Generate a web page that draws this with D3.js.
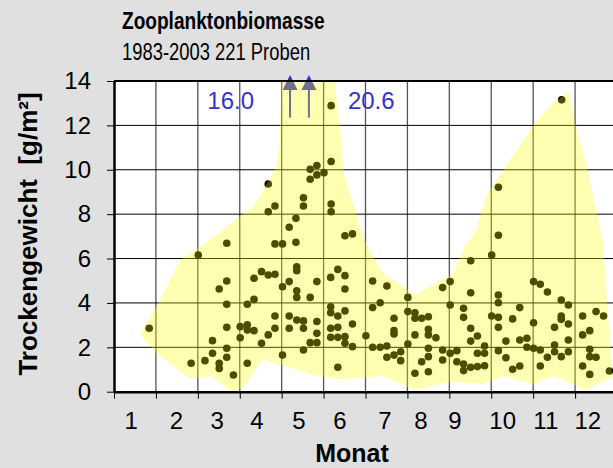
<!DOCTYPE html>
<html>
<head>
<meta charset="utf-8">
<title>Zooplanktonbiomasse</title>
<script src="https://cdn.jsdelivr.net/npm/d3@7"></script>
<style>
  body { margin: 0; background: #e0e0e0; }
  text { font-family: "Liberation Sans", Arial, sans-serif; }
</style>
</head>
<body>
<script>

// Proben: Monat (dezimal) und Trockengewicht [g/m2]
var monat = [
  0.84, 1.84, 2.01, 2.17, 2.35, 2.35, 2.51, 2.51, 2.51, 2.69, 2.69, 2.69, 2.69, 2.69, 2.69, 2.85,
  3.01, 3.01, 3.18, 3.18, 3.18, 3.18, 3.34, 3.34, 3.34, 3.52, 3.52, 3.68, 3.68, 3.68, 3.68,
  3.84, 3.84, 3.84, 3.84, 3.84, 4.02, 4.02, 4.02, 4.18, 4.18, 4.18, 4.18, 4.34, 4.34,
  4.36, 4.36, 4.36, 4.36, 4.36, 4.52, 4.52, 4.52, 4.52, 4.52, 4.68, 4.68, 4.68, 4.68,
  4.84, 4.84, 4.84, 4.84, 4.84, 4.84, 5.01, 5.17, 5.17, 5.17, 5.17, 5.17, 5.18, 5.18, 5.18, 5.18,
  5.34, 5.34, 5.34, 5.34, 5.34, 5.51, 5.51, 5.51, 5.51, 5.51, 5.51, 5.69, 5.69, 5.69,
  6.01, 6.17, 6.17, 6.17, 6.35, 6.35, 6.51, 6.51, 6.51, 6.68, 6.68, 6.68, 6.68, 6.84, 6.84,
  7.01, 7.01, 7.01, 7.18, 7.18, 7.18, 7.18, 7.34, 7.34, 7.50, 7.50, 7.50, 7.50, 7.50, 7.50,
  7.68, 7.84, 7.84, 7.84, 8.02, 8.02, 8.02, 8.18, 8.18, 8.34, 8.34, 8.34, 8.34,
  8.51, 8.51, 8.51, 8.51, 8.51, 8.67, 8.67, 8.67, 8.84, 8.84, 8.84, 9.01, 9.01,
  9.17, 9.17, 9.17, 9.17, 9.17, 9.17, 9.17, 9.35, 9.35, 9.51, 9.51, 9.68, 9.68, 9.68, 9.85, 9.85,
  10.01, 10.01, 10.01, 10.17, 10.17, 10.17, 10.34, 10.34, 10.51, 10.51, 10.51,
  10.67, 10.67, 10.67, 10.67, 10.68, 10.84, 10.84, 10.84, 10.84,
  11.18, 11.18, 11.18, 11.35, 11.35, 11.35, 11.35, 11.50, 11.50, 11.68, 11.82
];
var gewicht = [
  2.86, 1.28, 6.16, 1.40, 1.73, 2.30, 1.28, 1.05, 4.63, 1.55, 1.96, 2.90, 3.94, 4.99, 6.69, 0.75,
  2.93, 2.43, 3.01, 2.78, 1.28, 3.94, 2.75, 4.16, 5.11, 5.41, 2.18, 5.26, 2.56, 8.11, 9.36,
  5.29, 2.86, 3.41, 6.66, 8.37, 1.65, 4.73, 6.66, 4.96, 2.86, 3.41, 7.41, 6.73, 7.81,
  5.63, 5.45, 4.55, 4.25, 3.23, 3.19, 2.86, 1.88, 8.74, 8.37, 2.21, 4.25, 10.02, 9.57,
  4.96, 3.16, 2.63, 2.21, 10.19, 9.77, 9.87, 5.15, 3.83, 3.56, 2.86, 2.45, 12.89, 10.37, 8.46, 8.11,
  5.51, 3.41, 2.90, 2.45, 1.10, 5.23, 4.63, 3.64, 2.48, 2.18, 7.03, 7.11, 2.03, 3.05,
  2.52, 4.99, 3.79, 2.00, 4.01, 2.00, 4.76, 2.06, 1.55, 3.31, 2.75, 2.60, 1.65, 1.80, 1.40,
  4.25, 3.61, 2.15, 3.56, 3.31, 2.56, 0.83, 3.31, 1.35, 3.38, 2.81, 2.56, 1.96, 1.58, 0.90,
  2.43, 4.69, 1.88, 1.43, 4.96, 3.91, 1.73, 1.85, 1.35, 3.76, 3.35, 1.25, 0.95,
  5.90, 4.46, 2.86, 2.28, 1.10, 2.51, 1.73, 1.13, 2.06, 1.73, 1.17, 6.16, 3.41,
  9.21, 7.05, 4.36, 4.01, 3.35, 2.90, 1.85, 2.28, 1.53, 3.28, 1.01, 3.79, 2.33, 1.16, 2.41, 2.00,
  4.96, 3.11, 1.96, 4.84, 1.88, 1.16, 4.49, 1.55, 2.90, 2.10, 1.80,
  4.13, 3.41, 3.26, 1.58, 13.15, 3.91, 3.05, 2.33, 1.80,
  3.41, 2.56, 1.16, 2.75, 1.91, 1.58, 0.78, 3.61, 1.55, 3.41, 0.93
];

// gelbe Huellflaeche
var huelleMonat = [0.62, 1.10, 1.58, 2.06, 3.33, 3.88, 3.96, 4.00, 5.20, 5.39, 5.48, 5.87, 6.03,
  6.39, 7.18, 8.10, 8.35, 8.62, 8.89, 10.01, 10.50, 10.86, 11.00, 11.24, 11.66, 11.88, 12.10,
  11.28, 10.49, 10.01, 9.29, 8.82, 8.02, 7.18, 6.43, 5.39, 4.76, 4.12, 3.52, 3.17, 2.85,
  2.33, 1.81, 1.02];
var huelleWert = [2.56, 4.13, 5.94, 6.53, 8.34, 10.14, 11.49, 15.0, 15.0, 11.94, 9.84, 7.44, 6.60,
  5.41, 4.36, 5.34, 6.50, 7.21, 8.86, 12.02, 13.05, 13.50, 12.09, 10.44, 6.84, 0.84, 0.90,
  0.08, 0.71, 0.35, 0.71, 0.35, 0.45, 0.08, 0.71, 0.56, 0.75, 1.13, 1.46, 0.38, -0.10,
  0.71, 0.60, 1.73];

// Werte ausserhalb der Skala
var pfeilMonat = [4.20, 4.65];
var pfeilWert = [16.0, 20.6];

var monatLabels = ["1", "2", "3", "4", "5", "6", "7", "8", "9", "10", "11", "12"];
var monatLabelPos = [0.40, 1.48, 2.45, 3.40, 4.40, 5.38, 6.45, 7.31, 8.12, 9.26, 10.29, 11.29];
var yTicks = [0, 2, 4, 6, 8, 10, 12, 14];

var width = 613, height = 468;
var pL = 114, pT = 81, pR = 617, pB = 391.7;

var x = d3.scaleLinear().domain([0, 12]).range([pL, pR]);
var y = d3.scaleLinear().domain([0, 14]).range([pB, pT]);

var svg = d3.select("body").append("svg")
  .attr("width", width)
  .attr("height", height)
  .style("display", "block");

svg.append("rect").attr("width", width).attr("height", height).attr("fill", "#e0e0e0");

svg.append("defs").append("clipPath").attr("id", "plot")
  .append("rect")
  .attr("x", pL).attr("y", pT)
  .attr("width", pR - pL).attr("height", pB - pT);

svg.append("rect")
  .attr("x", pL).attr("y", pT)
  .attr("width", pR - pL).attr("height", pB - pT)
  .attr("fill", "#fff");

// Gitter
svg.append("g").selectAll("line")
  .data(d3.range(1, 13))
  .enter().append("line")
  .attr("x1", d => x(d)).attr("x2", d => x(d))
  .attr("y1", pT).attr("y2", pB)
  .attr("stroke", "#555").attr("stroke-width", 1.3);

svg.append("g").selectAll("line")
  .data(yTicks.slice(1))
  .enter().append("line")
  .attr("x1", pL).attr("x2", pR)
  .attr("y1", d => y(d)).attr("y2", d => y(d))
  .attr("stroke", "#000").attr("stroke-width", 1);

// Punkte
svg.append("g").selectAll("circle")
  .data(monat)
  .enter().append("circle")
  .attr("cx", d => x(d))
  .attr("cy", (d, i) => y(gewicht[i]))
  .attr("r", 3.8)
  .attr("fill", "#000");

// Pfeile fuer Werte > 14
var pfeile = svg.append("g");
pfeile.selectAll("line")
  .data(pfeilMonat)
  .enter().append("line")
  .attr("x1", d => x(d)).attr("x2", d => x(d))
  .attr("y1", y(12.35)).attr("y2", y(14) - 2)
  .attr("stroke", "#3333cc").attr("stroke-width", 2);
pfeile.selectAll("path")
  .data(pfeilMonat)
  .enter().append("path")
  .attr("d", d => "M" + (x(d) - 7.5) + "," + (y(14) + 9) + "L" + x(d) + "," + (y(14) - 6) +
    "L" + (x(d) + 7.5) + "," + (y(14) + 9) + "Z")
  .attr("fill", "#3333cc");

// Huellflaeche
var huelle = huelleMonat.map((m, i) => [x(m), y(huelleWert[i])]);
svg.append("path")
  .attr("clip-path", "url(#plot)")
  .attr("d", d3.line()(huelle) + "Z")
  .attr("fill", "#ffff00")
  .attr("fill-opacity", 0.3);

// Achsen
svg.append("line")
  .attr("x1", pL).attr("x2", pR).attr("y1", pT).attr("y2", pT)
  .attr("stroke", "#000").attr("stroke-width", 2);

var yAxis = svg.append("g")
  .attr("transform", "translate(" + pL + ",0)")
  .call(d3.axisLeft(y).tickValues(yTicks).tickSize(7).tickPadding(16).tickSizeOuter(0));
yAxis.select(".domain").attr("stroke-width", 2.5);
yAxis.selectAll(".tick line").attr("stroke", "#000").attr("stroke-width", 1);
yAxis.selectAll("text").attr("font-size", 24).attr("fill", "#000")
  .style("font-family", "'Liberation Sans', Arial, sans-serif");

var xAxis = svg.append("g")
  .attr("transform", "translate(0," + pB + ")")
  .call(d3.axisBottom(x).tickValues(d3.range(0, 13)).tickSize(7).tickFormat("").tickSizeOuter(0));
xAxis.select(".domain").attr("stroke-width", 2.5);
xAxis.selectAll(".tick line").attr("stroke", "#000").attr("stroke-width", 1);

var xLab = svg.append("g")
  .attr("transform", "translate(0," + pB + ")")
  .call(d3.axisBottom(x).tickValues(monatLabelPos).tickSize(0).tickPadding(20)
    .tickFormat((d, i) => monatLabels[i]));
xLab.select(".domain").remove();
xLab.selectAll("text").attr("font-size", 24).attr("fill", "#000")
  .style("font-family", "'Liberation Sans', Arial, sans-serif");

// Beschriftung Pfeile
svg.append("text")
  .attr("x", x(pfeilMonat[0]) - 36).attr("y", 109)
  .attr("text-anchor", "end")
  .attr("font-size", 24).attr("fill", "#3333cc")
  .text(d3.format(".1f")(pfeilWert[0]));
svg.append("text")
  .attr("x", x(pfeilMonat[1]) + 39).attr("y", 109)
  .attr("font-size", 24).attr("fill", "#3333cc")
  .text(d3.format(".1f")(pfeilWert[1]));

// Titel (schmal gesetzt)
svg.append("text")
  .attr("transform", "translate(122,29) scale(0.83,1)")
  .attr("font-size", 23).attr("font-weight", "bold")
  .text("Zooplanktonbiomasse");
svg.append("text")
  .attr("transform", "translate(122,60) scale(0.80,1)")
  .attr("font-size", 23)
  .text("1983-2003 221 Proben");

svg.append("text")
  .attr("x", 352).attr("y", 462)
  .attr("text-anchor", "middle")
  .attr("font-size", 25).attr("font-weight", "bold")
  .text("Monat");

svg.append("text")
  .attr("transform", "translate(37," + 234 + ") rotate(-90)")
  .attr("text-anchor", "middle")
  .attr("font-size", 26).attr("font-weight", "bold")
  .style("white-space", "pre")
  .text("Trockengewicht  [g/m²]");

</script>
</body>
</html>
